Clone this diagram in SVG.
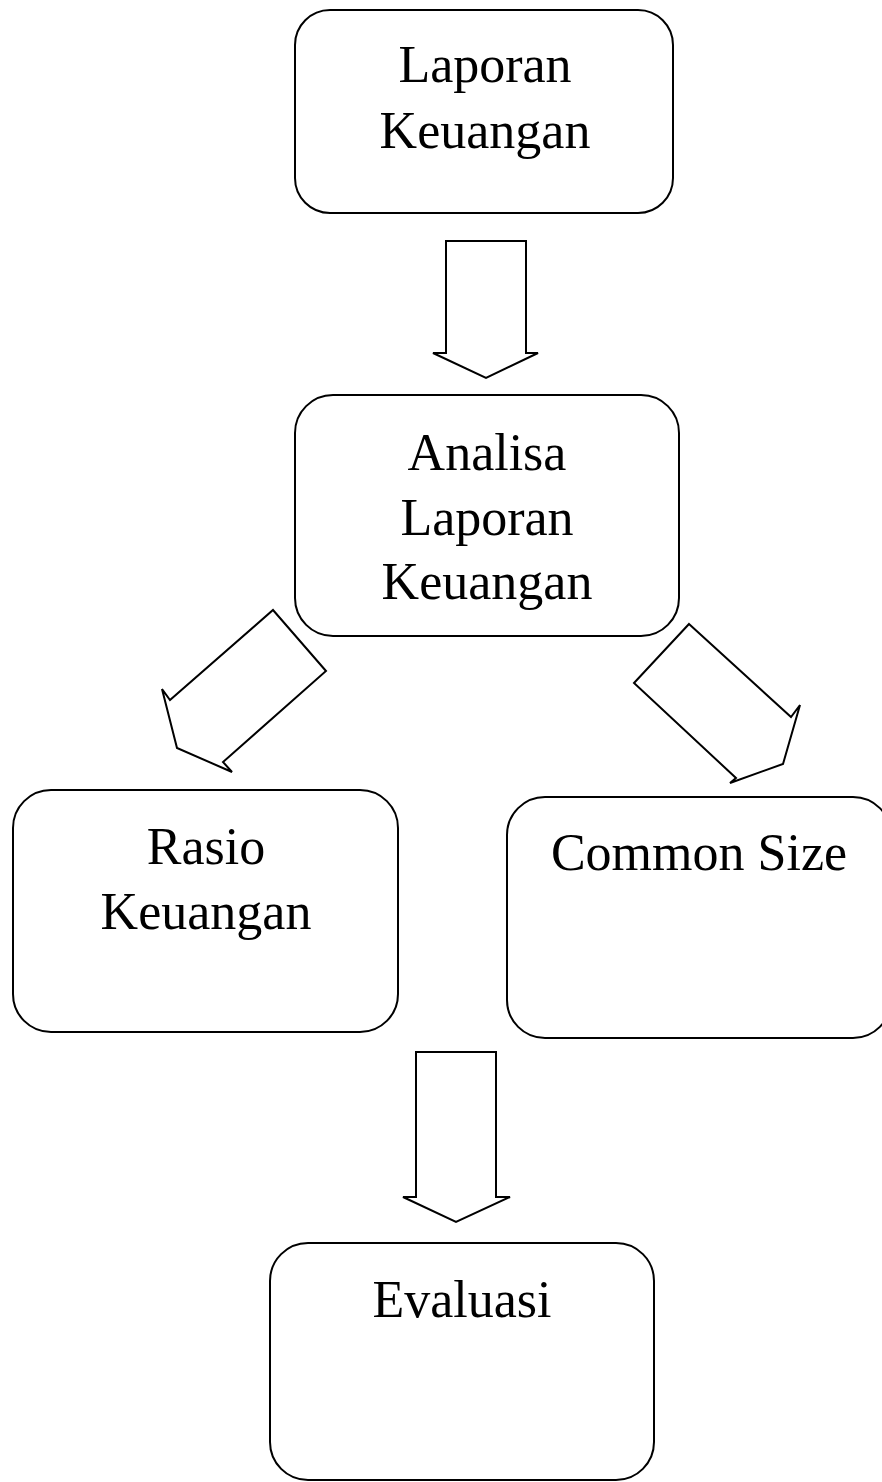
<svg xmlns="http://www.w3.org/2000/svg" width="882" height="1482" viewBox="0 0 882 1482">
<style>
.box{fill:#fff;stroke:#000;stroke-width:2}
.arr{fill:#fff;stroke:#000;stroke-width:2;stroke-linejoin:miter}
text{font-family:"Liberation Serif","Times New Roman",serif;font-size:52px;fill:#000;text-anchor:middle}
</style>
<rect width="882" height="1482" fill="#fff"/>
<g id="n1"><rect class="box" x="295" y="10" width="378" height="203" rx="35"/>
<text x="485" y="82">Laporan</text><text x="485" y="148">Keuangan</text></g>
<g id="n2"><rect class="box" x="295" y="395" width="384" height="241" rx="38"/>
<text x="487" y="470">Analisa</text><text x="487" y="535">Laporan</text><text x="487" y="599">Keuangan</text></g>
<g id="n3"><rect class="box" x="13" y="790" width="385" height="242" rx="38"/>
<text x="206" y="864">Rasio</text><text x="206" y="929">Keuangan</text></g>
<g id="n4"><rect class="box" x="507" y="797" width="384" height="241" rx="38"/>
<text x="699" y="870">Common Size</text></g>
<g id="n5"><rect class="box" x="270" y="1243" width="384" height="237" rx="38"/>
<text x="462" y="1317">Evaluasi</text></g>
<g id="connectors">
<polygon class="arr" points="446,241 526,241 526,353 538,353 486,378 433,353 446,353"/>
<polygon class="arr" points="273,610 326,671 223,762 232,772 177,748 162,689 170,700"/>
<polygon class="arr" points="689,624 791,717 800,705 783,764 730,783 736,778 634,683"/>
<polygon class="arr" points="416,1052 496,1052 496,1197 510,1197 456,1222 403,1197 416,1197"/>
</g>
</svg>
